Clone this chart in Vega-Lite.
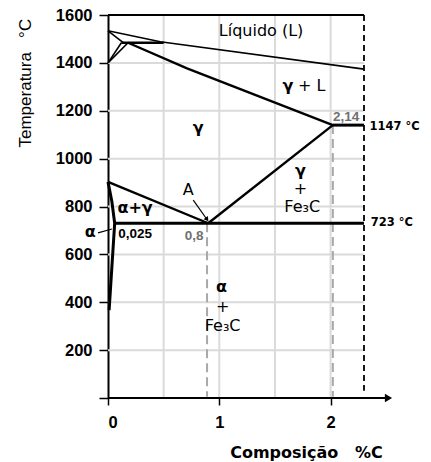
{
  "$schema": "https://vega.github.io/schema/vega-lite/v6.json",
  "width": 256,
  "height": 383,
  "autosize": {"type": "none"},
  "padding": {"left": 108, "top": 15, "right": 67, "bottom": 64},
  "background": "white",
  "config": {"view": {"stroke": null}},
  "datasets": {
    "grid": [
      {"x": 0.5, "x2": 0.5, "y": 0, "y2": 1600},
      {"x": 1, "x2": 1, "y": 0, "y2": 1600},
      {"x": 1.5, "x2": 1.5, "y": 0, "y2": 1600},
      {"x": 2, "x2": 2, "y": 0, "y2": 1600},
      {"x": 0, "x2": 2.3, "y": 200, "y2": 200},
      {"x": 0, "x2": 2.3, "y": 400, "y2": 400},
      {"x": 0, "x2": 2.3, "y": 600, "y2": 600},
      {"x": 0, "x2": 2.3, "y": 800, "y2": 800},
      {"x": 0, "x2": 2.3, "y": 1000, "y2": 1000},
      {"x": 0, "x2": 2.3, "y": 1200, "y2": 1200},
      {"x": 0, "x2": 2.3, "y": 1400, "y2": 1400}
    ],
    "grayDash": [
      {"x": 0.89, "x2": 0.89, "y": 730, "y2": 5},
      {"x": 2.02, "x2": 2.02, "y": 1140, "y2": 5}
    ],
    "blackDash": [
      {"x": 2.3, "x2": 2.3, "y": 1600, "y2": 30}
    ],
    "frame": [
      {"x": 0, "x2": 2.3, "y": 1600, "y2": 1600},
      {"x": 0, "x2": 2.5, "y": 0, "y2": 0}
    ],
    "thin": [
      {"seg": "liq", "o": 1, "x": 0, "y": 1534},
      {"seg": "liq", "o": 2, "x": 0.47, "y": 1488},
      {"seg": "liq", "o": 3, "x": 2.3, "y": 1374},
      {"seg": "d1", "o": 1, "x": 0, "y": 1534},
      {"seg": "d1", "o": 2, "x": 0.14, "y": 1484},
      {"seg": "d2", "o": 1, "x": 0, "y": 1400},
      {"seg": "d2", "o": 2, "x": 0.12, "y": 1484},
      {"seg": "d3", "o": 1, "x": 0, "y": 1400},
      {"seg": "d3", "o": 2, "x": 0.18, "y": 1484}
    ],
    "thick": [
      {"seg": "sol", "o": 1, "x": 0.18, "y": 1484},
      {"seg": "sol", "o": 2, "x": 0.71, "y": 1377},
      {"seg": "sol", "o": 3, "x": 2.02, "y": 1140},
      {"seg": "per", "o": 1, "x": 0.12, "y": 1484},
      {"seg": "per", "o": 2, "x": 0.5, "y": 1484},
      {"seg": "acm", "o": 1, "x": 0.9, "y": 730},
      {"seg": "acm", "o": 2, "x": 2.02, "y": 1140},
      {"seg": "a3", "o": 1, "x": 0, "y": 903},
      {"seg": "a3", "o": 2, "x": 0.9, "y": 730}
    ],
    "heavy": [
      {"seg": "eut", "o": 1, "x": 0.06, "y": 730},
      {"seg": "eut", "o": 2, "x": 2.3, "y": 730},
      {"seg": "e1147", "o": 1, "x": 2.02, "y": 1140},
      {"seg": "e1147", "o": 2, "x": 2.3, "y": 1140},
      {"seg": "alpha", "o": 1, "x": 0, "y": 903},
      {"seg": "alpha", "o": 2, "x": 0.035, "y": 820},
      {"seg": "alpha", "o": 3, "x": 0.06, "y": 730},
      {"seg": "alpha", "o": 4, "x": 0.01, "y": 367}
    ],
    "pointers": [
      {"seg": "A", "o": 1, "x": 0.766, "y": 827},
      {"seg": "A", "o": 2, "x": 0.88, "y": 752},
      {"seg": "al", "o": 1, "x": -0.09, "y": 690},
      {"seg": "al", "o": 2, "x": 0.035, "y": 706}
    ],
    "heads": [
      {"x": 0.89, "y": 746}
    ],
    "axisHead": [
      {"x": 2.52, "y": 0}
    ],
    "regular": [
      {"t": "Líquido (L)", "x": 1.375, "y": 1532},
      {"t": "+ L", "x": 1.83, "y": 1303},
      {"t": "+", "x": 1.73, "y": 874},
      {"t": "Fe₃C", "x": 1.745, "y": 799},
      {"t": "+", "x": 1.03, "y": 381},
      {"t": "Fe₃C", "x": 1.03, "y": 301},
      {"t": "A", "x": 0.72, "y": 869}
    ],
    "greek": [
      {"t": "γ", "x": 1.617, "y": 1303},
      {"t": "γ", "x": 0.81, "y": 1129},
      {"t": "γ", "x": 1.73, "y": 947},
      {"t": "α+γ", "x": 0.243, "y": 792},
      {"t": "α", "x": -0.16, "y": 695},
      {"t": "α", "x": 1.02, "y": 464}
    ],
    "smallBlack": [
      {"t": "0,025", "x": 0.243, "y": 685}
    ],
    "smallGray": [
      {"t": "0,8", "x": 0.773, "y": 677},
      {"t": "2,14", "x": 2.14, "y": 1175}
    ],
    "temps": [
      {"t": "1147 °C", "x": 2.35, "y": 1132},
      {"t": "723 °C", "x": 2.36, "y": 731}
    ]
  },
  "encoding": {
    "x": {
      "field": "x",
      "type": "quantitative",
      "scale": {"domain": [0, 2.3], "nice": false, "zero": false},
      "axis": {
        "title": "Composição\u00a0\u00a0 %C",
        "values": [0, 1, 2],
        "format": "d",
        "grid": false,
        "domain": false,
        "ticks": true,
        "tickColor": "black",
        "tickSize": 7,
        "tickWidth": 1.5,
        "labelFont": "Liberation Sans",
        "labelFontWeight": "bold",
        "labelFontSize": 16.5,
        "labelColor": "black",
        "labelPadding": 9,
        "titleFont": "DejaVu Sans",
        "titleFontWeight": "bold",
        "titleFontSize": 16,
        "titleColor": "black",
        "titleX": 198,
        "titleY": 59,
        "titleAlign": "center",
        "titleBaseline": "alphabetic"
      }
    },
    "y": {
      "field": "y",
      "type": "quantitative",
      "scale": {"domain": [0, 1600], "nice": false, "zero": false},
      "axis": {
        "title": "Temperatura\u00a0\u00a0\u00a0°C",
        "values": [0, 200, 400, 600, 800, 1000, 1200, 1400, 1600],
        "format": "d",
        "labelExpr": "datum.value == 0 ? '' : datum.label",
        "grid": false,
        "domain": true,
        "domainColor": "black",
        "domainWidth": 2,
        "tickColor": "black",
        "tickSize": 9,
        "tickWidth": 1.5,
        "labelFont": "Liberation Sans",
        "labelFontWeight": "bold",
        "labelFontSize": 16.5,
        "labelColor": "black",
        "labelPadding": 7,
        "titleFont": "Liberation Sans",
        "titleFontWeight": "normal",
        "titleFontSize": 17,
        "titleColor": "black",
        "titleAngle": -90,
        "titleX": -83,
        "titleY": 132,
        "titleAlign": "left",
        "titleBaseline": "middle"
      }
    }
  },
  "layer": [
    {
      "data": {"name": "grid"},
      "mark": {"type": "rule", "color": "#dadada", "strokeWidth": 2},
      "encoding": {"x2": {"field": "x2"}, "y2": {"field": "y2"}}
    },
    {
      "data": {"name": "grayDash"},
      "mark": {"type": "rule", "color": "#a8a8a8", "strokeWidth": 2, "strokeDash": [9, 5]},
      "encoding": {"x2": {"field": "x2"}, "y2": {"field": "y2"}}
    },
    {
      "data": {"name": "blackDash"},
      "mark": {"type": "rule", "color": "black", "strokeWidth": 1.8, "strokeDash": [6, 4]},
      "encoding": {"x2": {"field": "x2"}, "y2": {"field": "y2"}}
    },
    {
      "data": {"name": "frame"},
      "mark": {"type": "rule", "color": "black", "strokeWidth": 2},
      "encoding": {"x2": {"field": "x2"}, "y2": {"field": "y2"}}
    },
    {
      "data": {"name": "axisHead"},
      "mark": {"type": "point", "shape": "triangle-right", "filled": true, "color": "black", "size": 70, "opacity": 1}
    },
    {
      "data": {"name": "thin"},
      "mark": {"type": "line", "color": "black", "strokeWidth": 1.6},
      "encoding": {"detail": {"field": "seg"}, "order": {"field": "o"}}
    },
    {
      "data": {"name": "thick"},
      "mark": {"type": "line", "color": "black", "strokeWidth": 2.4},
      "encoding": {"detail": {"field": "seg"}, "order": {"field": "o"}}
    },
    {
      "data": {"name": "heavy"},
      "mark": {"type": "line", "color": "black", "strokeWidth": 3},
      "encoding": {"detail": {"field": "seg"}, "order": {"field": "o"}}
    },
    {
      "data": {"name": "pointers"},
      "mark": {"type": "line", "color": "black", "strokeWidth": 1.2},
      "encoding": {"detail": {"field": "seg"}, "order": {"field": "o"}}
    },
    {
      "data": {"name": "heads"},
      "mark": {"type": "point", "shape": "triangle-down", "filled": true, "color": "black", "size": 28, "angle": -37, "opacity": 1}
    },
    {
      "data": {"name": "regular"},
      "mark": {"type": "text", "font": "DejaVu Sans", "fontSize": 16, "color": "black", "align": "center", "baseline": "middle"},
      "encoding": {"text": {"field": "t"}}
    },
    {
      "data": {"name": "greek"},
      "mark": {"type": "text", "font": "DejaVu Sans", "fontSize": 16, "fontWeight": "bold", "color": "black", "align": "center", "baseline": "middle"},
      "encoding": {"text": {"field": "t"}}
    },
    {
      "data": {"name": "smallBlack"},
      "mark": {"type": "text", "font": "Liberation Sans", "fontSize": 13.5, "fontWeight": "bold", "color": "black", "align": "center", "baseline": "middle"},
      "encoding": {"text": {"field": "t"}}
    },
    {
      "data": {"name": "smallGray"},
      "mark": {"type": "text", "font": "Liberation Sans", "fontSize": 13.5, "fontWeight": "bold", "color": "#707070", "align": "center", "baseline": "middle"},
      "encoding": {"text": {"field": "t"}}
    },
    {
      "data": {"name": "temps"},
      "mark": {"type": "text", "font": "DejaVu Sans", "fontSize": 11.5, "fontWeight": "bold", "color": "black", "align": "left", "baseline": "middle"},
      "encoding": {"text": {"field": "t"}}
    }
  ]
}
